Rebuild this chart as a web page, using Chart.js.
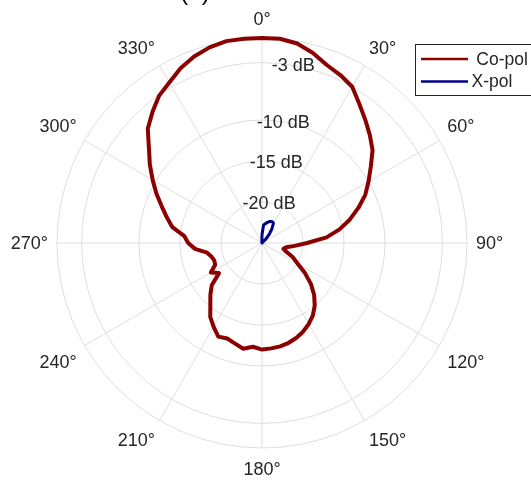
<!DOCTYPE html>
<html>
<head>
<meta charset="utf-8">
<script src="https://cdn.jsdelivr.net/npm/chart.js@4.4.1/dist/chart.umd.min.js"></script>
<style>
  html, body { margin: 0; padding: 0; background: #fff; }
  #wrap { width: 531px; height: 481px; position: relative; }
</style>
</head>
<body>
<div id="wrap"><canvas id="polar"></canvas></div>
<script>
// angle of each sample, degrees clockwise from the top
const angles = [
  0, 5, 10, 15, 20, 25, 30, 35, 40, 45, 50, 55,
  60, 65, 70, 75, 80, 85, 90, 95, 100, 105, 110, 115,
  120, 125, 130, 135, 140, 145, 150, 155, 160, 165, 170, 175,
  180, 185, 190, 195, 200, 205, 210, 215, 220, 225, 230, 235,
  240, 245, 250, 255, 260, 265, 270, 275, 280, 285, 290, 295,
  300, 305, 310, 315, 320, 325, 330, 335, 340, 345, 350, 355,
];

// normalised gain, dB
const coPol = [
  0, 0, -0.3, -1.0, -1.9, -2.4, -3.0, -4.3, -5.4, -6.4, -7.4, -8.8,
  -10.0, -11.1, -12.5, -13.9, -15.4, -17.1, -19.5, -21.0, -22.0, -22.3, -21.8, -20.8,
  -20.0, -18.6, -17.2, -16.0, -15.0, -14.2, -13.6, -13.1, -12.7, -12.4, -12.2, -12.1,
  -12.0, -12.3, -11.9, -12.3, -12.6, -12.4, -13.2, -14.0, -15.2, -16.1, -17.0, -18.6,
  -17.8, -18.7, -18.8, -18.6, -18.2, -16.8, -16.0, -15.5, -13.9, -13.0, -12.0, -10.8,
  -9.6, -8.3, -7.0, -5.3, -4.2, -3.1, -2.4, -1.5, -0.8, -0.3, 0, 0,
];

const xPol = [
  -24.0, -22.8, -22.6, -22.4, -22.2, -22.1, -22.2, -22.9, -23.6, -24.4, -25, -25,
  -25, -25, -25, -25, -25, -25, -25, -25, -25, -25, -25, -25,
  -25, -25, -25, -25, -25, -25, -25, -25, -25, -25, -25, -25,
  -25, -25, -25, -25, -25, -25, -25, -25, -25, -25, -25, -25,
  -25, -25, -25, -25, -25, -25, -25, -25, -25, -25, -25, -25,
  -25, -25, -25, -25, -25, -25, -25, -25, -25, -25, -25, -24.8,
];

const rTicks = [-25, -20, -15, -10, -3, 0];
const rTickLabels = ["", "-20 dB", "-15 dB", "-10 dB", "-3 dB", ""];
const thetaStep = 30;
const seriesNames = [" Co-pol", "X-pol"];
const titleText = "(a)";

const FONT = "'Liberation Sans', Arial, sans-serif";
const TEXT = "#262626";
const GRID = "#dedede";
const RED = "#8b0000";
const BLUE = "#00008b";

// theta labels, r tick labels at 10 deg, boxed legend, clipped title
const polarDecor = {
  id: "polarDecor",
  afterDraw(chart) {
    const ctx = chart.ctx;
    const s = chart.scales.r;
    ctx.save();
    ctx.fillStyle = TEXT;
    ctx.font = "18px " + FONT;

    // theta labels anchored just outside the outer ring, like matlab
    angles.forEach((a, i) => {
      if (a % thetaStep !== 0) return;
      const p = s.getPointPosition(i, s.drawingArea + 9);
      let y = p.y;
      if (a === 0 || a === 180) ctx.textAlign = "center";
      else if (a < 180) ctx.textAlign = "left";
      else ctx.textAlign = "right";
      if (a === 90 || a === 270) {
        ctx.textBaseline = "middle";
        y += 1;
      } else if (a < 90 || a > 270) {
        ctx.textBaseline = "alphabetic";
        y -= 4;
      } else {
        ctx.textBaseline = "alphabetic";
        y += 18;
      }
      ctx.fillText(a + "\u00b0", p.x, y);
    });

    ctx.textAlign = "center";
    ctx.textBaseline = "middle";
    const rAng = 10 * Math.PI / 180;
    rTicks.forEach((v, i) => {
      if (!rTickLabels[i]) return;
      const d = s.getDistanceFromCenterForValue(v);
      ctx.fillText(rTickLabels[i], s.xCenter + d * Math.sin(rAng), s.yCenter - d * Math.cos(rAng) + 1);
    });

    // legend
    ctx.fillStyle = "#fff";
    ctx.fillRect(415.5, 44.5, 130, 51);
    ctx.strokeStyle = TEXT;
    ctx.lineWidth = 1;
    ctx.strokeRect(415.5, 44.5, 130, 51);
    ctx.textAlign = "left";
    ctx.font = "17.5px " + FONT;
    chart.data.datasets.forEach((ds, i) => {
      const y = 59 + i * 22.5;
      ctx.strokeStyle = ds.borderColor;
      ctx.lineWidth = 2.5;
      ctx.beginPath();
      ctx.moveTo(421, y);
      ctx.lineTo(468, y);
      ctx.stroke();
      ctx.fillStyle = TEXT;
      ctx.fillText(ds.label, 471.5, y + 1);
    });

    // title sits mostly above the canvas
    ctx.textAlign = "center";
    ctx.textBaseline = "alphabetic";
    ctx.font = "24px " + FONT;
    ctx.fillStyle = "#000";
    ctx.fillText(titleText, 195, 0);
    ctx.restore();
  },
};

new Chart(document.getElementById("polar"), {
  type: "radar",
  data: {
    labels: angles,
    datasets: [
      {
        label: seriesNames[0],
        data: coPol,
        borderColor: RED,
        borderWidth: 4,
        fill: false,
      },
      {
        label: seriesNames[1],
        data: xPol,
        borderColor: BLUE,
        borderWidth: 3,
        fill: false,
      },
    ],
  },
  options: {
    responsive: true,
    maintainAspectRatio: false,
    animation: false,
    layout: { padding: { left: 56, right: 63, top: 38, bottom: 33 } },
    elements: {
      point: { radius: 0, hitRadius: 0 },
      line: { tension: 0, borderJoinStyle: "round" },
    },
    plugins: {
      legend: { display: false },
      title: { display: false },
      tooltip: { enabled: false },
    },
    scales: {
      r: {
        min: -25,
        max: 0,
        startAngle: 0,
        afterBuildTicks: (scale) => {
          scale.ticks = rTicks.map((v) => ({ value: v }));
        },
        ticks: { display: false },
        pointLabels: { display: false },
        grid: { circular: true, color: GRID, lineWidth: 1 },
        angleLines: {
          display: true,
          color: GRID,
          lineWidth: (c) => (angles[c.index] % thetaStep === 0 ? 1 : 0),
        },
      },
    },
  },
  plugins: [polarDecor],
});
</script>
</body>
</html>
